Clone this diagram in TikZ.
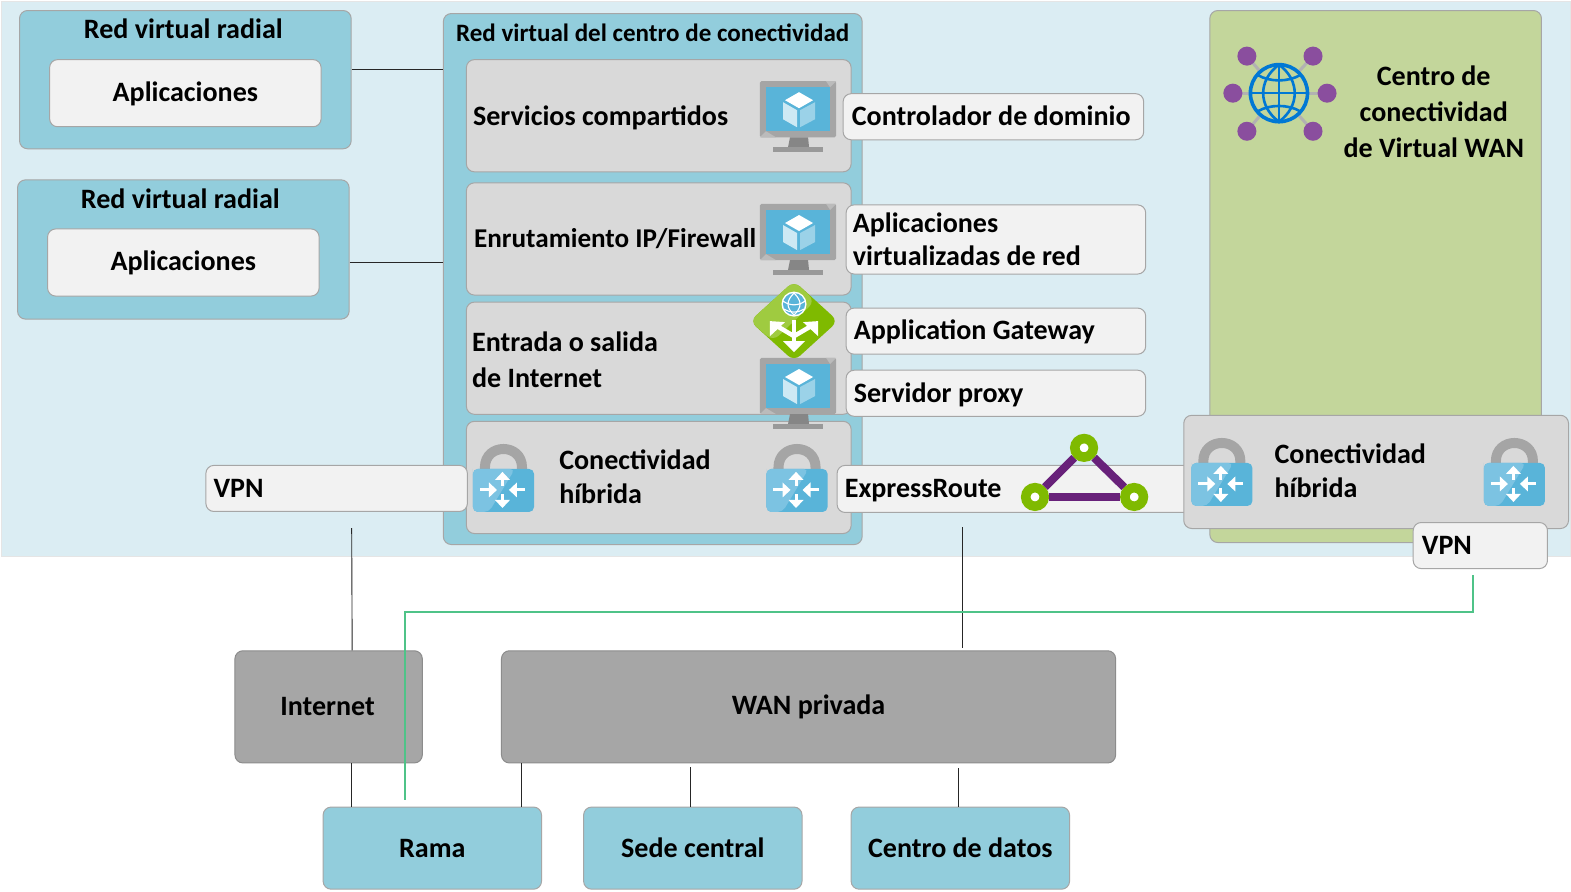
\documentclass[tikz,border=0pt]{standalone}
\usepackage{fontspec}
\setmainfont{Carlito}[Ligatures=TeX]
\definecolor{bgblue}{HTML}{DBEDF3}
\definecolor{teal}{HTML}{92CDDC}
\definecolor{panel}{HTML}{D9D9D9}
\definecolor{callout}{HTML}{F2F2F2}
\definecolor{edge}{HTML}{A6A6A6}
\definecolor{leaf}{HTML}{C3D69B}
\definecolor{darkbox}{HTML}{A6A6A6}
\definecolor{azure}{HTML}{59B4D9}
\definecolor{azurelt}{HTML}{7CC3E2}
\definecolor{icongray}{HTML}{A5A5A5}
\definecolor{ergreen}{HTML}{7FBA00}
\definecolor{erpurple}{HTML}{68217A}
\definecolor{vwanpurple}{HTML}{8A4E9E}
\definecolor{globeblue}{HTML}{0078D4}
\definecolor{vpngreen}{HTML}{4FC388}
\tikzset{
  x=1pt,y=-1pt,
  txt/.style={font=\fontsize{28}{36}\selectfont\bfseries,text=black},
  box/.style={draw=edge,line width=1pt,rounded corners=8pt,anchor=north west,inner sep=0pt,txt},
  tealbox/.style={box,fill=teal},
  panelbox/.style={box,fill=panel},
  calloutbox/.style={box,fill=callout},
  darkboxs/.style={box,fill=darkbox,draw=gray!90},
  nudged/.style={text height=22pt,text depth=6pt},
  label/.style={txt,anchor=base west,inner sep=0pt,align=left},
  conn/.style={draw=black!85,line width=0.9pt},
  ering/.style={circle,draw=ergreen,fill=white,line width=9.5pt,minimum size=18.5pt,inner sep=0pt},
  erline/.style={erpurple,line width=8pt},
  monitor/.pic={
    \fill[icongray,rounded corners=1.5pt] (0,0) rectangle (76,56);
    \fill[icongray!75] (70,6) -- (76,0) -- (66,0) -- cycle;
    \fill[icongray!75] (6,50) -- (0,56) -- (16,56) -- cycle;
    \fill[azure] (6,6) rectangle (70,50);
    \fill[white] (39,11) -- (53,19) -- (39,27) -- (25,19) -- cycle;
    \fill[white!70!azure] (23,21) -- (37,29) -- (37,46) -- (23,38) -- cycle;
    \fill[white!40!azure] (55,21) -- (40,29) -- (40,46) -- (55,38) -- cycle;
    \fill[gray!95] (30,56) -- (48,56) -- (49,66) -- (28,66) -- cycle;
    \fill[gray!80] (13,66) rectangle (63,71);
  },
  padlock/.pic={
    \draw[icongray,line width=10pt] (12,2) -- (12,-1.5) .. controls (12,-26) and (49,-26) .. (49,-1.5) -- (49,2);
    \fill[azure,rounded corners=5pt] (0,0) rectangle (61,43);
    \fill[azurelt,rounded corners=5pt] (0,5) -- (0,0) -- (42,0) -- (16,43) -- (0,43) -- cycle;
    \draw[white,line width=3pt] (29.5,10) -- (29.5,17);
    \fill[white] (29.5,3) -- (37,11) -- (22,11) -- cycle;
    \draw[white,line width=3pt] (29.5,25) -- (29.5,32);
    \fill[white] (29.5,39) -- (37,31) -- (22,31) -- cycle;
    \draw[white,line width=3pt] (7,21) -- (17,21);
    \fill[white] (24,21) -- (16,13.5) -- (16,28.5) -- cycle;
    \draw[white,line width=3pt] (42,21) -- (52,21);
    \fill[white] (36,21) -- (44,13.5) -- (44,28.5) -- cycle;
  },
  gateway/.pic={
    \fill[ergreen,rounded corners=8pt] (0,-40) -- (44,0) -- (0,40) -- (-44,0) -- cycle;
    \fill[ergreen!75!white,rounded corners=8pt] (0,-40) -- (-44,0) -- (-21,20) -- (21,-20) -- cycle;
    \draw[white,line width=4.5pt] (0,-1) -- (0,22);
    \fill[white] (0,31) -- (-11,20) -- (11,20) -- cycle;
    \draw[white,line width=4.5pt] (0,15) -- (-17,5);
    \fill[white] (-24,0) -- (-24,15) -- (-9,1) -- cycle;
    \draw[white,line width=4.5pt] (0,15) -- (17,5);
    \fill[white] (24,0) -- (24,15) -- (9,1) -- cycle;
    \fill[white] (0,-17) circle (12.5);
    \fill[azure] (0,-17) circle (11);
    \draw[white,line width=1.1pt] (-11,-20) .. controls (-4,-15) and (4,-15) .. (11,-20);
    \draw[white,line width=1.1pt] (-10,-12) .. controls (-4,-8) and (4,-8) .. (10,-12);
    \draw[white,line width=1.1pt] (0,-28) .. controls (-8,-20) and (-8,-14) .. (0,-6);
    \draw[white,line width=1.1pt] (0,-28) .. controls (8,-20) and (8,-14) .. (0,-6);
  },
}
\begin{document}
\begin{tikzpicture}
\useasboundingbox (0,0) rectangle (1568,889.3);
\fill[white] (0,0) rectangle (1568,889.3);
% background
\node[draw=black!10,fill=bgblue,line width=1pt,anchor=north west,inner sep=0pt,minimum width=1566pt,minimum height=554pt] (canvas) at (1,1) {};

% spoke networks
\node[tealbox,minimum width=331pt,minimum height=138pt] (spokeA) at (19,10) {};
\node[label,anchor=base] (spokeAt) at (183,38.5) {Red virtual radial};
\node[calloutbox,nudged,minimum width=271pt,minimum height=67pt] (appsA) at (49,59) {Aplicaciones};
\node[tealbox,minimum width=331pt,minimum height=139pt] (spokeB) at (17,179) {};
\node[label,anchor=base] (spokeBt) at (180,208) {Red virtual radial};
\node[calloutbox,nudged,minimum width=271pt,minimum height=67pt] (appsB) at (47,228) {Aplicaciones};

% hub
\node[tealbox,minimum width=418pt,minimum height=530pt] (hub) at (442,13) {};
\node[label,font=\fontsize{25}{30}\selectfont\bfseries] (hubt) at (455,41) {Red virtual del centro de conectividad};
\node[panelbox,minimum width=384pt,minimum height=112pt] (shared) at (465,59) {};
\node[panelbox,minimum width=384pt,minimum height=112pt] (routing) at (465,182) {};
\node[panelbox,minimum width=384pt,minimum height=112pt] (ingress) at (465,301) {};
\node[panelbox,minimum width=384pt,minimum height=112pt] (hybrid) at (465,420) {};
\node[label] (sharedt) at (472,125) {Servicios compartidos};
\node[label,font=\fontsize{27.1}{36}\selectfont\bfseries] (routingt) at (473,247) {Enrutamiento IP/Firewall};
\node[label] (ingresst) at (471,387) {Entrada o salida\\de Internet};
\node[label,font=\fontsize{28}{34}\selectfont\bfseries] (hybridt) at (558,503) {Conectividad\\híbrida};

% callouts
\node[calloutbox,minimum width=300pt,minimum height=46pt] (dc) at (841,93) {};
\node[label] (dct) at (850,125.5) {Controlador de dominio};
\node[calloutbox,minimum width=299pt,minimum height=69pt] (nva) at (844,204) {};
\node[label,font=\fontsize{28}{33}\selectfont\bfseries] (nvat) at (851,265) {Aplicaciones\\virtualizadas de red};
\node[calloutbox,minimum width=299pt,minimum height=46pt] (agw) at (844,307) {};
\node[label] (agwt) at (852,339) {Application Gateway};
\node[calloutbox,minimum width=299pt,minimum height=46pt] (proxy) at (844,369) {};
\node[label] (proxyt) at (852,402) {Servidor proxy};
\node[calloutbox,minimum width=261pt,minimum height=46pt] (vpnL) at (205,464) {};
\node[label] (vpnLt) at (213,497) {VPN};
\node[calloutbox,minimum width=370pt,minimum height=47pt] (er) at (835,464) {};
\node[label] (ert) at (843,497) {ExpressRoute};

% Virtual WAN hub
\node[box,fill=leaf,minimum width=331pt,minimum height=531pt] (vwan) at (1207,10) {};
\node[txt,align=center,inner sep=0pt,anchor=base] (vwant) at (1431,157) {Centro de\\conectividad\\de Virtual WAN};
\node[panelbox,minimum width=384pt,minimum height=113pt] (hybridR) at (1181,414) {};
\node[label,font=\fontsize{28}{34}\selectfont\bfseries] (hybridRt) at (1272,497) {Conectividad\\híbrida};
\node[calloutbox,minimum width=134pt,minimum height=46pt] (vpnR) at (1410,521) {};
\node[label] (vpnRt) at (1419,553) {VPN};

% icons
\pic at (758.5,81) {monitor};
\pic at (758.5,203.6) {monitor};
\pic at (758.5,357.3) {monitor};
\pic at (792.5,320.5) {gateway};
\pic at (472,468) {padlock};
\pic at (765,468) {padlock};
\pic at (1189,462) {padlock};
\pic at (1481,462) {padlock};

% ExpressRoute triangle
\node[ering] (erT) at (1082,447) {};
\node[ering] (erL) at (1033,496) {};
\node[ering] (erR) at (1132,496) {};
\draw[erline] (erT) -- (erL);
\draw[erline] (erL) -- (erR);
\draw[erline] (erR) -- (erT);

% Virtual WAN icon
\coordinate (g) at (1276.5,93);
\foreach \n/\px/\py in {a/1244.5/56,b/1310.5/56,c/1230.5/93,d/1324.5/93,e/1244.5/131,f/1310.5/131}{
  \draw[gray!60,line width=3pt] (g) -- (\px,\py);
  \node[circle,fill=vwanpurple,minimum size=19pt,inner sep=0pt] (dot\n) at (\px,\py) {};
}
\fill[leaf] (g) circle (29);
\draw[globeblue,line width=3.6pt] (g) circle (28.5);
\draw[globeblue,line width=2.6pt] (1276.5,64.5) .. controls (1255.5,80) and (1255.5,106) .. (1276.5,121.5);
\draw[globeblue,line width=2.6pt] (1276.5,64.5) .. controls (1297.5,80) and (1297.5,106) .. (1276.5,121.5);
\draw[globeblue,line width=2.6pt] (1276.5,64.5) -- (1276.5,121.5);
\draw[globeblue,line width=2.6pt] (1248,93) -- (1305,93);
\draw[globeblue,line width=2.6pt] (1255.5,75) .. controls (1267.5,82) and (1285.5,82) .. (1297.5,75);
\draw[globeblue,line width=2.6pt] (1255.5,111) .. controls (1267.5,104) and (1285.5,104) .. (1297.5,111);

% lower boxes
\node[darkboxs,minimum width=187pt,minimum height=112pt] (inet) at (234,649) {};
\node[txt,inner sep=0pt] (inett) at (327,705.5) {Internet};
\node[darkboxs,nudged,minimum width=613pt,minimum height=112pt] (wan) at (500,649) {WAN privada};
\node[tealbox,minimum width=218pt,minimum height=82pt] (rama) at (322,805) {Rama};
\node[tealbox,minimum width=218pt,minimum height=82pt] (sede) at (582,805) {Sede central};
\node[tealbox,minimum width=218pt,minimum height=82pt] (datos) at (849,805) {Centro de datos};

% connectors
\coordinate (sA) at ([yshift=10pt]spokeA.east);
\coordinate (sB) at ([yshift=-12.5pt]spokeB.east);
\draw[conn] (sA) -- (sA -| hub.west);
\draw[conn] (sB) -- (sB -| hub.west);
\coordinate (inetTop) at ([xshift=23.5pt]inet.north);
\coordinate (inetFree) at (351,527);
\draw[conn] (inetFree) -- (inetTop);
\coordinate (wanTop) at (961,647);
\coordinate (erFree) at (961,526);
\draw[conn] (erFree) -- (wanTop);
\coordinate (inetBot) at (inet.south -| inetFree);
\draw[conn] (inetBot) -- (inetBot |- rama.north);
\coordinate (wanBotA) at (520,762);
\draw[conn] (wanBotA) -- (wanBotA |- rama.north);
\coordinate (wanBotB) at (689,766);
\draw[conn] (wanBotB) -- (wanBotB |- sede.north);
\coordinate (wanBotC) at (957,767);
\draw[conn] (wanBotC) -- (wanBotC |- datos.north);
\coordinate (vpnFree) at (1470,574);
\coordinate (ramaFree) at (404,798);
\draw[vpngreen,line width=1.5pt] (vpnFree) -- (1470,611) -- (404,611) -- (ramaFree);
\end{tikzpicture}
\end{document}
